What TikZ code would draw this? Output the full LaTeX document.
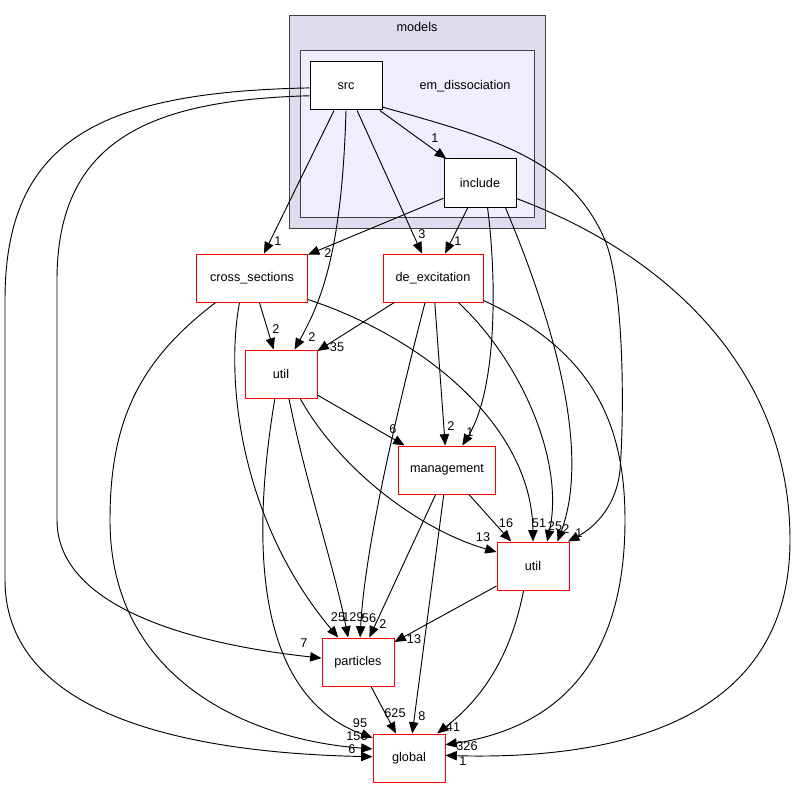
\documentclass[tikz,border=0pt]{standalone}
\usepackage{fontspec}
\setmainfont{Liberation Sans}
\usepackage{xcolor}
\usepackage{tikz}
\usetikzlibrary{arrows.meta}
\definecolor{outerfill}{HTML}{DDDDEE}
\definecolor{innerfill}{HTML}{EEEEFF}

\begin{document}
\begin{tikzpicture}[x=0.75pt,y=-0.75pt,
    dirbox/.style={shape=rectangle,draw=red,fill=white,line width=0.75pt,inner sep=0pt,minimum width=54pt,minimum height=36pt,font=\fontsize{9.5}{11}\selectfont},
    subbox/.style={dirbox,draw=black},
    cluster/.style={shape=rectangle,draw=black!75,line width=0.75pt,inner sep=0pt},
    dep/.style={draw=black,line width=0.7pt,-{Triangle[length=8.5pt,width=7pt]}},
    num/.style={inner sep=0pt,font=\fontsize{9.5}{10}\selectfont}]
    \useasboundingbox (0,0) rectangle (792,788);
    % clusters
    \node[cluster,fill=outerfill,minimum width=192pt,minimum height=159pt] (models) at (417,122){};
    \node[cluster,fill=innerfill,minimum width=175.5pt,minimum height=124.5pt] (emdiss) at (417,134){};
    \node[font=\fontsize{9.5}{11}\selectfont] (modelslbl) at (417,27){models};
    \node[font=\fontsize{9.5}{11}\selectfont] (emdisslbl) at (465,86){em\_dissociation};
    % directories
    \node[subbox] (src) at (346,86){src};
    \node[subbox] (incl) at (480,183){include};
    \node[dirbox,minimum width=83.25pt] (xsec) at (252,278){cross\_sections};
    \node[dirbox,minimum width=75pt] (deex) at (433,278){de\_excitation};
    \node[dirbox] (utilA) at (281,374){util};
    \node[dirbox,minimum width=72.75pt] (mgmt) at (447,470){management};
    \node[dirbox] (utilB) at (533,566){util};
    \node[dirbox] (part) at (358,662){particles};
    \node[dirbox] (glob) at (409,758){global};
    % straight dependencies
    \draw[dep] (src) -- (incl);
    \draw[dep] (src) -- (xsec);
    \draw[dep] (src) -- (deex);
    \draw[dep] (incl) -- (xsec);
    \draw[dep] (incl) -- (deex);
    \draw[dep] (xsec) -- (utilA);
    \draw[dep] (deex) -- (utilA);
    \draw[dep] (deex) -- (mgmt);
    \draw[dep] (utilA) -- (mgmt);
    \draw[dep] (mgmt) -- (utilB);
    \draw[dep] (mgmt) -- (part);
    \draw[dep] (mgmt) -- (glob);
    \draw[dep] (utilB) -- (part);
    \draw[dep] (part) -- (glob);
    % curved dependencies
    \draw[dep] (src.south) .. controls (342,250) and (322,300) .. (utilA);
    \draw[dep] (src.330) .. controls (500,140) and (570,160) .. (605,240) .. controls (625,290) and (624,420) .. (620,470) .. controls (616,510) and (590,530) .. (utilB.35);
    \draw[dep] (src.195) .. controls (150,100) and (57,140) .. (57,280) -- (57,520) .. controls (57,610) and (200,645) .. (part);
    \draw[dep] (src.183) .. controls (100,92) and (5,140) .. (5,300) -- (5,580) .. controls (5,700) and (150,752) .. (glob.178);
    \draw[dep] (incl.287) .. controls (497,280) and (497,390) .. (mgmt);
    \draw[dep] (incl.316) .. controls (540,290) and (595,440) .. (utilB.45);
    \draw[dep] (incl.337) .. controls (680,260) and (790,380) .. (790,540) .. controls (790,720) and (620,760) .. (glob.4);
    \draw[dep] (xsec.243) .. controls (225,380) and (240,520) .. (part.129);
    \draw[dep] (xsec.214) .. controls (140,360) and (110,420) .. (110,520) .. controls (110,680) and (250,740) .. (glob.166);
    \draw[dep] (xsec.339) .. controls (430,340) and (532,430) .. (utilB.north);
    \draw[dep] (deex.252) .. controls (405,380) and (365,540) .. (part.85);
    \draw[dep] (deex.316) .. controls (520,360) and (565,460) .. (utilB.60);
    \draw[dep] (deex.336) .. controls (590,350) and (625,420) .. (625,520) .. controls (625,680) and (540,730) .. (glob.20);
    \draw[dep] (utilA.308) .. controls (340,470) and (420,530) .. (utilB.159);
    \draw[dep] (utilA.288) .. controls (305,480) and (335,570) .. (part.112);
    \draw[dep] (utilA.256) .. controls (258,500) and (240,690) .. (glob.151);
    \draw[dep] (utilB.249) .. controls (510,660) and (480,700) .. (glob.41);
    % counts
    \node[num] (n-src-incl) at (435,138){1};
    \node[num] (n-src-xsec) at (278,241){1};
    \node[num] (n-incl-xsec) at (328,253){2};
    \node[num] (n-src-deex) at (422,234){3};
    \node[num] (n-incl-deex) at (458,241){1};
    \node[num] (n-xsec-utilA) at (276,329){2};
    \node[num] (n-src-utilA) at (312,337){2};
    \node[num] (n-deex-utilA) at (337,347){35};
    \node[num] (n-utilA-mgmt) at (393,429){6};
    \node[num] (n-deex-mgmt) at (451,426){2};
    \node[num] (n-incl-mgmt) at (470,432){1};
    \node[num] (n-mgmt-utilB) at (506,523){16};
    \node[num] (n-xsec-utilB) at (539,523){51};
    \node[num] (n-deex-utilB) at (555,526){25};
    \node[num] (n-incl-utilB) at (566,529){2};
    \node[num] (n-src-utilB) at (579,533){1};
    \node[num] (n-utilA-utilB) at (483,537){13};
    \node[num] (n-xsec-part) at (338,617){25};
    \node[num] (n-utilA-part) at (353,617){129};
    \node[num] (n-deex-part) at (369,618){56};
    \node[num] (n-mgmt-part) at (383,624){2};
    \node[num] (n-src-part) at (304,643){7};
    \node[num] (n-utilB-part) at (414,639){13};
    \node[num] (n-utilA-glob) at (360,723){95};
    \node[num] (n-xsec-glob) at (357,736){156};
    \node[num] (n-src-glob) at (352,749){6};
    \node[num] (n-part-glob) at (395,713){625};
    \node[num] (n-mgmt-glob) at (422,716){8};
    \node[num] (n-utilB-glob) at (453,727){41};
    \node[num] (n-deex-glob) at (467,746){326};
    \node[num] (n-incl-glob) at (463,761){1};
\end{tikzpicture}
\end{document}
